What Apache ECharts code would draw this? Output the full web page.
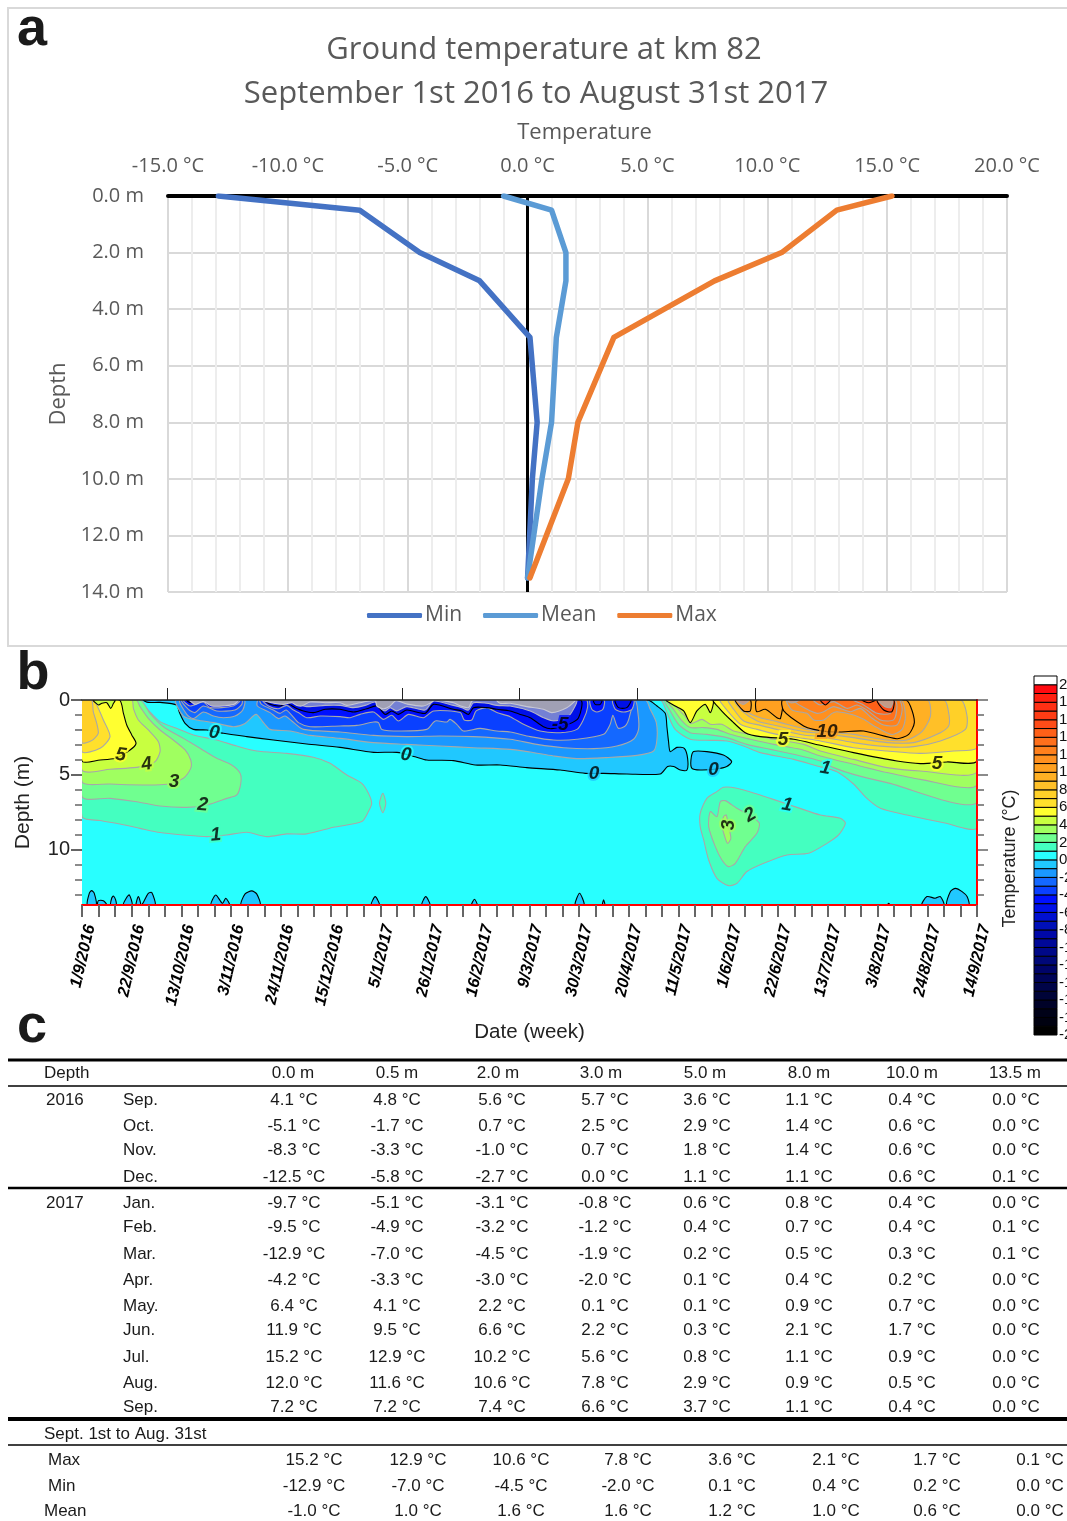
<!DOCTYPE html>
<html>
<head>
<meta charset="utf-8">
<style>
html,body{margin:0;padding:0;background:#fff;}
#main{width:1067px;height:1521px;}
</style>
<script src="https://cdn.jsdelivr.net/npm/echarts@6/dist/echarts.min.js"></script>
</head>
<body>
<div id="main"></div>
<script>
// panel a: depth profile (also the last three rows of the table)
const depths=[0,0.5,2,3,5,8,10,13.5];
const tempMax=[15.2,12.9,10.6,7.8,3.6,2.1,1.7,0.1];
const tempMin=[-12.9,-7.0,-4.5,-2.0,0.1,0.4,0.2,0.0];
const tempMean=[-1.0,1.0,1.6,1.6,1.2,1.0,0.6,0.0];

// panel c: monthly values by depth
const months=['Sep.','Oct.','Nov.','Dec.','Jan.','Feb.','Mar.','Apr.','May.','Jun.','Jul.','Aug.','Sep.'];
const depth0=[4.1,-5.1,-8.3,-12.5,-9.7,-9.5,-12.9,-4.2,6.4,11.9,15.2,12.0,7.2];
const depth05=[4.8,-1.7,-3.3,-5.8,-5.1,-4.9,-7.0,-3.3,4.1,9.5,12.9,11.6,7.2];
const depth2=[5.6,0.7,-1.0,-2.7,-3.1,-3.2,-4.5,-3.0,2.2,6.6,10.2,10.6,7.4];
const depth3=[5.7,2.5,0.7,0.0,-0.8,-1.2,-1.9,-2.0,0.1,2.2,5.6,7.8,6.6];
const depth5=[3.6,2.9,1.8,1.1,0.6,0.4,0.2,0.1,0.1,0.3,0.8,2.9,3.7];
const depth8=[1.1,1.4,1.4,1.1,0.8,0.7,0.5,0.4,0.9,2.1,1.1,0.9,1.1];
const depth10=[0.4,0.6,0.6,0.6,0.4,0.4,0.3,0.2,0.7,1.7,0.9,0.5,0.4];
const depth135=[0.0,0.0,0.0,0.1,0.0,0.1,0.1,0.0,0.0,0.0,0.0,0.0,0.0];
const tableDepths=['0.0 m','0.5 m','2.0 m','3.0 m','5.0 m','8.0 m','10.0 m','13.5 m'];

// panel b: x axis
const dateLabels=['1/9/2016','22/9/2016','13/10/2016','3/11/2016','24/11/2016','15/12/2016','5/1/2017','26/1/2017','16/2/2017','9/3/2017','30/3/2017','20/4/2017','11/5/2017','1/6/2017','22/6/2017','13/7/2017','3/8/2017','24/8/2017','14/9/2017'];
const topTicks=[5.13,12.25,19.3,26.4,33.5,40.6,47.7];
const lastWeek=54;
const lastDepth=13.67;

// panel b: colour scale, one class per degree from -20 to 20
const legendLevels=[];
for(let l=-20;l<=20;l++)legendLevels.push(l);
const legendColors=['#000000','#000110','#000218','#000228','#000438','#000448','#000458','#000468','#000878','#000888','#000898','#0008a8','#0010b8','#0010d0','#0010e8','#0010ff','#0a40ff','#1468ff','#1a98ff','#20c8ff','#28ffff','#44ffc0','#70ff90','#a0ff60','#c8ff40','#ffff30','#ffe02c','#ffd028','#ffc028','#ffb024','#ffa020','#ff901f','#ff801c','#ff701c','#ff6018','#ff4c18','#ff3c14','#ff3014','#ff2010','#ff0a10','#ffffff'];

// panel b: contours, [week, depth]
const plotArea=[[0,0],[54,0],[54,13.67],[0,13.67]];

const warmLeft1=[[0,7.78],[1.09,8.04],[2.29,8.27],[3.5,8.56],[4.71,8.84],[6.12,9.0],[7.53,9.11],[8.73,9.0],[9.94,8.82],[11.15,9.11],[12.35,8.93],[13.56,8.93],[15.17,8.49],[16.88,8.11],[17.28,7.44],[17.48,6.89],[17.28,6.22],[16.88,5.56],[15.98,5.0],[14.97,4.22],[13.96,3.82],[12.35,3.56],[10.54,3.4],[9.34,3.07],[8.13,2.67],[6.72,2.33],[5.71,1.89],[4.71,1.44],[3.9,0.56],[3.4,0],[0,0]];
const warmIsland=[[18.15,6.22],[18.33,6.89],[18.15,7.51],[17.95,6.89]];
const warmLeft2=[[0,6.44],[1.69,6.56],[3.3,6.78],[4.71,7.07],[6.32,7.16],[7.53,7.0],[8.73,6.56],[9.34,6.33],[9.58,5.56],[9.54,4.89],[9.03,4.33],[8.13,3.89],[7.12,3.22],[6.12,2.56],[4.91,1.78],[4.1,0.89],[3.5,0],[0,0]];
const warmLeft3=[[0,5.44],[1.69,5.6],[3.7,5.67],[5.11,5.62],[6.12,5.22],[6.56,4.56],[6.56,4.0],[6.22,3.33],[5.51,2.67],[4.71,2.0],[4.0,1.22],[3.5,0.44],[3.26,0],[0,0]];
const warmLeft4=[[0,4.67],[1.69,4.62],[3.6,4.44],[4.41,4.11],[4.71,3.44],[4.61,2.78],[4.0,2.0],[3.4,1.33],[3.1,0.56],[3.0,0],[0,0]];
const warmLeft5=[[0,4.07],[1.09,4.0],[2.0,3.89],[2.9,3.33],[3.26,2.89],[3.0,2.33],[2.7,1.67],[2.5,0.89],[2.25,0],[0,0]];
const warmLeft6=[[0,3.44],[1.09,3.22],[1.69,2.44],[1.29,1.33],[0.84,0.22],[0.68,0],[0,0]];
const warmLeft7=[[0,2.84],[0.58,2.71],[0.98,2.22],[0.89,1.56],[0.68,0.78],[0.58,0],[0,0]];
const leftPocket=[[0.68,0],[1.0,0.33],[1.2,0.22],[1.5,0.18],[1.73,0.56],[1.9,0.22],[2.0,0]];

const warmRight1=[[34.69,0],[34.99,0.07],[35.29,0.84],[35.79,1.96],[36.7,2.62],[37.9,2.69],[38.91,2.73],[39.92,3.07],[40.93,3.51],[42.94,3.96],[44.35,4.4],[45.55,4.78],[46.55,5.6],[47.36,6.56],[48.17,7.22],[49.78,7.67],[51.99,8.18],[54,8.49],[54,0]];
const warmRight2=[[35.19,0],[35.49,0.73],[35.99,1.62],[36.7,2.18],[37.7,2.29],[38.91,2.51],[40.12,2.96],[41.53,3.29],[42.94,3.62],[44.55,4.07],[45.35,4.51],[46.55,4.96],[48.57,5.51],[54,6.84],[54,0]];
const warmRight3=[[35.33,0],[35.69,0.62],[36.2,1.4],[36.7,1.84],[37.5,1.84],[38.31,1.96],[39.11,2.29],[40.32,2.62],[41.73,2.96],[43.35,3.29],[44.55,3.73],[46.55,4.29],[48.57,4.84],[50.58,5.29],[54,5.67],[54,0]];
const warmRight4=[[35.45,0],[35.89,0.51],[36.39,1.07],[36.74,1.56],[37.41,1.29],[37.91,1.62],[38.61,1.62],[39.31,2.07],[40.32,2.29],[41.73,2.62],[43.54,2.96],[44.55,3.4],[46.55,3.96],[48.57,4.51],[50.58,4.73],[54,4.8],[54,0]];
const warmRight5a=[[35.25,0],[35.79,0.4],[36.3,0.73],[36.7,1.51],[37.1,0.73],[37.6,0.29],[37.91,0.84],[38.05,0]];
const warmRight5b=[[38.11,0],[38.51,0.62],[39.21,1.4],[40.02,2.18],[40.93,2.44],[42.94,2.62],[44.55,3.02],[46.55,3.51],[49.17,4.07],[50.58,4.24],[52.19,4.13],[54,4.07],[54,0]];
const warmRight6=[[38.51,0],[38.71,0.4],[39.73,1.62],[40.74,1.96],[41.93,2.29],[43.54,2.56],[44.55,2.73],[46.55,3.18],[48.57,3.4],[50.58,3.56],[52.59,3.4],[54,3.18],[54,0]];
const warmRight7=[[39.02,0],[39.32,0.62],[39.92,1.4],[40.93,1.69],[41.93,1.96],[43.54,2.33],[44.55,2.44],[46.55,2.84],[48.57,3.11],[50.18,3.11],[51.79,2.73],[53.3,1.96],[53.4,1.07],[53.0,0]];
const warmRight8=[[39.42,0],[39.82,0.73],[40.74,1.4],[41.73,1.67],[43.54,2.11],[44.55,2.22],[46.55,2.51],[48.57,2.84],[50.18,2.84],[51.59,2.29],[52.29,1.73],[52.29,0.84],[52,0]];
const warmRight9=[[39.72,0],[40.22,0.84],[40.93,1.18],[41.93,1.44],[43.54,1.91],[44.75,2.11],[46.55,2.29],[48.57,2.67],[49.78,2.67],[50.68,2.11],[51.19,1.07],[50.99,0]];
const warmRight10a=[[39.42,0],[39.92,0.73],[40.32,0.73],[40.32,0]];
const warmRight10b=[[40.71,0],[40.71,0.78],[41.23,0.62],[41.93,1.18],[42.14,1.24],[42.23,0]];
const warmRight10c=[[42.29,0],[42.34,0.73],[43.54,1.73],[44.15,1.96],[44.95,2.11],[45.75,2.13],[47.16,2.07],[49.17,2.58],[49.88,2.29],[50.22,1.51],[49.98,0.4],[49.68,0]];
const warmRight11=[[42.54,0],[42.84,0.67],[43.74,0.89],[44.15,1.33],[44.75,1.33],[45.25,0.89],[45.55,0.78],[46.56,1.0],[47.16,1.29],[47.97,1.84],[48.87,2.3],[49.48,1.96],[49.68,1.07],[49.38,0]];
const warmRight12=[[42.94,0],[43.44,0.44],[44.35,0.89],[44.75,0.78],[45.35,0.44],[46.36,0.78],[46.96,0.56],[47.67,1.22],[48.37,1.67],[49.17,1.67],[49.48,0.67],[49.28,0]];
const warmRight13=[[44.15,0],[44.55,0.33],[45.35,0.11],[46.16,0.56],[46.76,0.33],[47.36,0.67],[48.17,1.33],[48.97,1.33],[49.17,0.44],[49.02,0]];
const warmRight14=[[46.56,0],[47.16,0.33],[47.97,0.89],[48.77,0.89],[48.97,0.22],[48.87,0]];
const warmRight15a=[[47.97,0],[48.37,0.67],[48.87,0.78],[48.97,0]];
const warmRight15b=[[47.06,0],[47.46,0.18],[47.87,0]];
const warmRight15c=[[44.55,0],[44.85,0.33],[45.15,0]];
const warmDenseA=[[48.05,0],[48.4,0.42],[48.8,0.5],[48.9,0]];
const warmDenseB=[[42.5,0],[42.8,0.2],[43.3,0]];
const warmDenseC=[[39.5,0],[39.9,0.3],[40.25,0]];

const warmBlob1=[[37.3,8.44],[37.3,7.56],[37.7,6.56],[38.3,6.11],[38.71,5.82],[39.51,5.89],[40.72,6.27],[41.93,6.71],[43.14,7.16],[44.55,7.67],[45.75,7.89],[46.06,8.22],[45.65,9.0],[44.95,9.56],[43.84,10.22],[42.54,10.33],[41.13,10.89],[40.12,11.44],[39.52,12.22],[39.01,12.38],[38.31,11.89],[37.81,10.67],[37.51,9.33]];
const warmBlob2=[[38.51,6.78],[38.81,6.71],[39.51,7.22],[40.42,7.78],[40.87,8.22],[40.72,8.89],[40.02,9.78],[39.42,10.89],[39.01,11.11],[38.61,10.67],[38.21,9.78],[37.81,8.44],[37.91,7.44],[38.31,7.78]];
const warmBlob3=[[38.71,7.78],[38.87,7.67],[39.01,8.44],[39.15,9.22],[38.95,9.56],[38.75,9.0],[38.61,8.33]];

const coldZero=[[3.7,0],[4.0,0.16],[4.71,0.16],[5.71,0.33],[5.88,0.84],[6.22,1.56],[6.72,1.96],[7.53,2.0],[8.53,2.22],[9.94,2.44],[11.55,2.67],[13.56,2.93],[15.57,3.16],[17.59,3.49],[19.0,3.49],[20.1,3.78],[20.8,4.0],[22.41,4.04],[23.72,4.33],[25.23,4.33],[26.84,4.51],[28.85,4.67],[30.36,4.89],[31.47,4.89],[32.88,4.93],[34.89,4.93],[35.33,4.44],[35.7,4.44],[36.1,4.67],[36.5,4.67],[36.54,3.89],[36.34,3.22],[35.89,3.16],[35.49,3.44],[35.39,2.78],[35.29,1.78],[35.19,0.89],[34.69,0.4],[34.12,0]];
const coldZeroPool=[[36.9,3.44],[37.7,3.44],[38.7,3.67],[39.2,4.11],[38.9,4.44],[38.3,4.6],[37.3,4.67],[36.8,4.56],[36.74,4.0]];
const coldBottom1=[[0.32,13.67],[0.44,12.89],[0.58,12.71],[0.74,12.89],[0.85,13.67]];
const coldBottom2=[[0.95,13.67],[0.99,13.38],[1.29,13.38],[1.49,13.67]];
const coldBottom3=[[1.73,13.67],[1.79,13.22],[1.89,13.07],[2.03,13.33],[2.05,13.67]];
const coldBottom4=[[2.49,13.67],[2.7,13.16],[2.86,13.0],[3.02,13.67]];
const coldBottom5=[[3.26,13.67],[3.4,13.11],[3.54,13.67]];
const coldBottom6=[[3.62,13.67],[3.7,13.51],[4.0,12.89],[4.21,12.84],[4.41,13.67]];
const coldBottom7=[[7.79,13.67],[8.07,13.0],[8.47,13.56],[8.67,13.22],[8.89,13.67]];
const coldBottom8=[[9.6,13.67],[9.84,12.93],[10.24,12.73],[10.54,12.93],[10.74,13.67]];
const coldBottom9=[[17.45,13.67],[17.69,13.11],[17.95,13.67]];
const coldBottom10=[[20.5,13.67],[20.74,13.11],[21.0,13.67]];
const coldBottom11=[[23.5,13.67],[23.68,13.29],[23.85,13.67]];
const coldBottom12=[[29.75,13.67],[30.02,12.89],[30.3,13.67]];
const coldBottom13=[[31.4,13.67],[31.47,13.33],[31.55,13.67]];
const coldBottom14=[[48.6,13.67],[48.67,13.56],[48.75,13.67]];
const coldBottom15=[[50.68,13.67],[50.98,13.11],[51.48,13.22],[51.79,13.11],[51.99,13.67]];
const coldBottom16=[[52.19,13.67],[52.39,12.78],[52.7,12.56],[53.1,12.78],[53.4,13.11],[53.5,13.67]];

const coldOne=[[5.71,0],[6.12,1.07],[6.92,1.33],[7.93,1.51],[9.13,1.78],[9.84,1.56],[10.5,0.96],[10.95,1.51],[11.35,1.96],[12.56,2.07],[13.76,2.36],[15.57,2.56],[17.59,2.84],[19.6,2.96],[21.61,3.07],[23.62,3.18],[25.83,3.29],[27.04,3.47],[28.45,3.73],[29.86,3.91],[31.67,3.84],[33.48,3.69],[34.49,3.4],[34.69,2.62],[34.65,1.51],[34.28,0.62],[33.98,0]];
const coldTwoA=[[5.92,0],[6.32,0.96],[6.72,1.24],[7.32,0.8],[7.93,1.07],[8.53,1.18],[9.23,1.07],[9.7,0.67],[9.78,0]];
const coldTwoB=[[10.65,0],[10.58,0.4],[11.35,0.84],[11.85,1.24],[12.25,1.07],[12.66,1.4],[13.36,1.96],[15.57,2.13],[17.59,2.36],[19.6,2.44],[21.61,2.4],[23.62,2.44],[25.83,2.62],[27.45,2.96],[29.06,3.18],[30.87,3.24],[32.27,3.07],[33.28,2.62],[33.58,1.96],[33.54,0.84],[33.32,0]];
const coldThreeA=[[6.02,0],[6.42,0.62],[6.82,0.84],[7.32,0.4],[8.13,0.73],[9.23,0.67],[9.64,0.29],[9.64,0]];
const coldThreeB=[[10.74,0],[10.84,0.29],[11.55,0.67],[11.95,0.89],[12.31,0.67],[12.66,1.02],[13.06,1.51],[13.76,1.78],[15.57,1.73],[16.58,1.69],[17.59,1.47],[17.89,1.51],[18.09,1.96],[19.2,2.07],[20.8,1.96],[21.31,1.4],[22.01,1.47],[22.21,1.29],[22.61,1.62],[23.02,2.07],[24.03,1.89],[25.03,2.07],[25.83,2.13],[27.04,2.44],[28.45,2.67],[29.86,2.62],[31.47,2.29],[31.87,1.62],[32.03,1.02],[32.23,1.62],[32.37,1.89],[32.78,1.73],[33.04,1.07],[33.12,0]];
const coldFourA=[[6.12,0],[6.52,0.4],[7.32,0.13],[7.73,0.51],[9.13,0.4],[9.53,0]];
const coldFourB=[[10.91,0],[11.25,0.4],[11.85,0.58],[12.35,0.36],[12.76,0.67],[13.06,0.84],[13.56,1.18],[14.37,1.07],[15.57,1.11],[16.18,1.18],[16.78,0.96],[17.59,0.8],[18.19,1.29],[18.69,1.02],[19.09,1.4],[19.7,0.96],[20.6,1.18],[21.21,0.73],[22.82,0.84],[23.06,1.33],[23.52,1.33],[23.78,0.73],[24.43,0.51],[25.03,0.84],[25.83,1.11],[26.64,1.62],[27.64,2.07],[28.85,2.18],[29.86,1.96],[30.26,1.29],[30.5,0.51],[30.42,0]];
const coldFourC=[[30.66,0],[30.76,0.62],[31.06,0.8],[31.43,0.62],[31.5,0]];
const coldFourD=[[32.03,0],[32.18,0.62],[32.68,0.8],[33.18,0.62],[33.28,0]];
const coldFiveA=[[6.32,0],[6.52,0.18],[7.32,0]];
const coldFiveB=[[7.93,0],[8.23,0.29],[9.13,0.18],[9.44,0]];
const coldFiveC=[[11.05,0],[11.35,0.29],[11.95,0.4],[12.35,0.22],[12.86,0.51],[13.36,0.73],[13.96,0.84],[14.67,0.62],[15.57,0.62],[16.38,0.8],[17.18,0.58],[17.79,0.4],[18.29,0.96],[18.69,0.73],[19.09,0.96],[19.6,0.67],[20.7,0.89],[21.21,0.29],[22.41,0.62],[22.92,0.73],[23.32,0.96],[23.62,0.51],[24.43,0.51],[25.03,0.62],[25.83,0.73],[26.44,0.96],[27.04,1.18],[27.84,1.78],[28.35,1.91],[29.35,1.62],[29.96,1.18],[30.06,0]];
const coldFiveD=[[30.86,0],[30.96,0.29],[31.27,0.29],[31.37,0]];
const coldFiveE=[[32.17,0],[32.37,0.51],[32.87,0.51],[33.12,0]];
const coldSix=[[11.25,0],[11.75,0.22],[12.35,0.04],[12.86,0.22],[13.56,0.44],[14.67,0.36],[15.57,0.36],[16.38,0.51],[17.08,0.36],[17.69,0.13],[17.95,0.51],[18.29,0.73],[18.59,0.51],[18.99,0.73],[19.6,0.44],[20.7,0.67],[21.21,0.07],[22.41,0.36],[22.92,0.51],[23.32,0.67],[23.62,0.18],[24.43,0.22],[25.03,0.36],[25.83,0.4],[27.04,0.73],[27.84,1.18],[28.45,1.4],[29.25,1.18],[29.65,0.62],[29.82,0]];
const denseA=[[6.52,0],[6.82,0.29],[7.32,0.09],[7.83,0.4],[9.13,0.31],[9.44,0]];
const denseB=[[10.84,0],[11.45,0.18],[12.15,0.29],[12.66,0.18],[12.96,0.36],[13.26,0.4],[13.76,0.13],[14.67,0.18],[15.57,0.18],[15.98,0.36],[16.78,0.18],[17.69,0.04],[17.79,0.4],[18.19,0.58],[18.59,0.4],[18.94,0.04],[19.6,0.27],[20.6,0.4],[21.21,0]];
const denseC=[[21.61,0],[22.41,0.18],[22.85,0.4],[23.32,0.51],[23.52,0.07],[23.7,0]];
const denseD=[[25.03,0],[25.22,0.22],[25.83,0.22],[26.84,0.44],[27.84,0.62],[28.35,0.84],[29.25,0.51],[29.74,0.07],[29.74,0]];

// contour labels
const labelWeeks=[7.97,19.54,30.9,38.11,2.33,3.9,5.55,7.28,8.07,28.85,44.95,42.3,44.85,51.59,42.54,40.32,39.01];
const labelDepths=[2.18,3.67,4.93,4.62,3.67,4.29,5.44,7.0,9.0,1.62,2.11,2.62,4.56,4.27,7.0,7.67,8.33];
const labelTexts=['0','0','0','0','5','4','3','2','1','-5','10','5','1','5','1','2','3'];
const labelAngles=[-8,-8,0,0,-8,8,0,-5,5,0,0,0,-10,0,-10,30,90];
const labelHalos=['#28ffff','#28ffff','#20c8ff','#20c8ff','#ffff30','#c8ff40','#a0ff60','#70ff90','#44ffc0','#0010ff','#ffa020','#ffff30','#28ffff','#ffff30','#28ffff','#70ff90','#a0ff60'];

const cellColor=function(cell){return legendColors[cell+20]};
const bands=[];
function warm(level,list){
    list.forEach(function(pts){
        bands.push({fill:cellColor(level),stroke:level%5==0?'#000':'#a8a8a8',pts:pts});
    });
}
function cold(level,list){
    list.forEach(function(pts){
        bands.push({fill:cellColor(level-1),stroke:level%5==0?'#000':'#a8a8a8',pts:pts});
    });
}
bands.push({fill:cellColor(0),stroke:null,pts:plotArea});
warm(1,[warmLeft1,warmIsland,warmRight1,warmBlob1]);
warm(2,[warmLeft2,warmRight2,warmBlob2]);
warm(3,[warmLeft3,warmRight3,warmBlob3]);
warm(4,[warmLeft4,warmRight4]);
warm(5,[warmLeft5,warmRight5a,warmRight5b]);
warm(6,[warmLeft6,warmRight6]);
warm(7,[warmLeft7,warmRight7]);
warm(8,[warmRight8]);
warm(9,[warmRight9]);
warm(10,[warmRight10a,warmRight10b,warmRight10c]);
warm(11,[warmRight11]);
warm(12,[warmRight12]);
warm(13,[warmRight13]);
warm(14,[warmRight14]);
warm(15,[warmRight15a,warmRight15b,warmRight15c]);
[warmDenseA,warmDenseB,warmDenseC].forEach(function(pts){
    bands.push({fill:'#c49a86',stroke:'#b0a8a0',pts:pts});
});
bands.push({fill:cellColor(4),stroke:'#000',pts:leftPocket});
cold(0,[coldZero,coldZeroPool,coldBottom1,coldBottom2,coldBottom3,coldBottom4,coldBottom5,coldBottom6,coldBottom7,coldBottom8,coldBottom9,coldBottom10,coldBottom11,coldBottom12,coldBottom13,coldBottom14,coldBottom15,coldBottom16]);
cold(-1,[coldOne]);
cold(-2,[coldTwoA,coldTwoB]);
cold(-3,[coldThreeA,coldThreeB]);
cold(-4,[coldFourA,coldFourB,coldFourC,coldFourD]);
cold(-5,[coldFiveA,coldFiveB,coldFiveC,coldFiveD,coldFiveE]);
// the closely packed contours below -5 read as a paler stripe in the picture
bands.push({fill:'#7480d4',stroke:'#b4b4c8',pts:coldSix});
[denseA,denseB,denseC,denseD].forEach(function(pts){
    bands.push({fill:'#a0a0b4',stroke:'#c8c8d4',pts:pts});
});

// table rendered as graphic text
const grayText='#595959';
const tableFont='"Liberation Sans"';
const tableRows=[1100,1126,1150,1177,1203,1227,1254,1280,1306,1330,1357,1383,1407];
const headerX=[293,397,498,601,705,809,912,1015];
const valueX=[294,397,502,605,707,809,912,1016];
const summaryX=[314,418,521,628,732,836,937,1040];
const monthly=[depth0,depth05,depth2,depth3,depth5,depth8,depth10,depth135];
const summaryRows=[{name:'Max',x:48,y:1460,vals:tempMax},{name:'Min',x:48,y:1486,vals:tempMin},{name:'Mean',x:44,y:1511,vals:tempMean}];

function cellText(x,y,text,align){
    return {type:'text',x:x,y:y,silent:true,style:{text:text,x:0,y:0,align:align||'left',verticalAlign:'middle',font:'17px '+tableFont,fill:'#1a1a1a'}};
}
function rule(y,w){
    return {type:'line',silent:true,shape:{x1:8,y1:y,x2:1067,y2:y},style:{stroke:'#000',lineWidth:w}};
}
function panelLetter(x,y,t){
    return {type:'text',x:x,y:y,silent:true,style:{text:t,x:0,y:0,align:'center',verticalAlign:'middle',font:'bold 54px "Liberation Sans"',fill:'#1a1a1a'}};
}
const graphics=[
    {type:'rect',silent:true,shape:{x:8,y:8,width:1070,height:638},style:{fill:'none',stroke:'#d9d9d9',lineWidth:2}},
    panelLetter(32,30,'a'),panelLetter(33,674,'b'),panelLetter(32,1027,'c'),
    rule(1060,3),rule(1086,1.5),rule(1188,2.5),rule(1419,4),rule(1445,1.5),
    cellText(44,1073,'Depth'),cellText(46,1100,'2016'),cellText(46,1203,'2017'),
    cellText(44,1434,'Sept. 1st to Aug. 31st')
];
tableDepths.forEach(function(d,i){graphics.push(cellText(headerX[i],1073,d,'center'))});
months.forEach(function(m,r){
    graphics.push(cellText(123,tableRows[r],m));
    monthly.forEach(function(col,c){
        graphics.push(cellText(valueX[c],tableRows[r],col[r].toFixed(1)+' °C','center'));
    });
});
summaryRows.forEach(function(row){
    graphics.push(cellText(row.x,row.y,row.name));
    row.vals.forEach(function(v,c){
        graphics.push(cellText(summaryX[c],row.y,v.toFixed(1)+' °C','center'));
    });
});

function profile(name,vals,color){
    return {
        name:name,type:'line',xAxisIndex:0,yAxisIndex:0,symbol:'none',
        data:vals.map(function(v,i){return [v,depths[i]]}),
        lineStyle:{color:color,width:5.5,cap:'round',join:'round'},
        itemStyle:{color:color},z:4
    };
}
const minorDepths=[1,2,3,4,6,7,8,9,11,12,13];
const majorDepths=[0,5,10];

let myChart=echarts.init(document.getElementById('main'),null,{renderer:'canvas'});
let option={
    animation:false,
    backgroundColor:'#fff',
    textStyle:{fontFamily:'"Open Sans"'},
    title:[
        {
            text:'Ground temperature at km 82',left:539,top:30,textAlign:'center',
            textStyle:{fontSize:31,fontWeight:'normal',color:grayText,fontFamily:'"Open Sans"'}
        },
        {
            text:'September 1st 2016 to August 31st 2017',left:531,top:74,textAlign:'center',
            textStyle:{fontSize:31,fontWeight:'normal',color:grayText,fontFamily:'"Open Sans"'}
        }
    ],
    legend:{
        data:['Min','Mean','Max'],left:362,top:600,itemWidth:55,itemHeight:5,itemGap:21,icon:'roundRect',
        textStyle:{fontSize:21,color:grayText,padding:[0,0,0,-2]}
    },
    graphic:{elements:graphics},
    grid:[
        {left:168,top:196,width:839,height:396,outerBoundsMode:'none'},
        {left:82,top:700,width:895,height:205,outerBoundsMode:'none'},
        {left:1034,top:676,width:23,height:359,outerBoundsMode:'none'}
    ],
    xAxis:[
        {
            gridIndex:0,type:'value',position:'top',min:-15,max:20,interval:5,
            name:'Temperature',nameLocation:'middle',nameGap:52,
            nameTextStyle:{fontSize:22,color:grayText,padding:[0,6,0,0]},
            axisLine:{onZero:false,lineStyle:{color:'#000',width:4}},
            axisTick:{show:false},
            axisLabel:{fontSize:20,color:grayText,margin:20,formatter:function(v){return v.toFixed(1)+' °C'}},
            splitLine:{lineStyle:{color:'#d9d9d9',width:2}},
            minorTick:{show:false,splitNumber:5},
            minorSplitLine:{show:true,lineStyle:{color:'#ededed',width:2}}
        },
        {
            gridIndex:1,type:'value',position:'bottom',min:0,max:lastWeek,interval:3,z:10,
            name:'Date (week)',nameLocation:'middle',nameGap:117,
            nameTextStyle:{fontSize:20.5,color:'#222',fontFamily:tableFont},
            axisLine:{onZero:false,lineStyle:{color:'#ff0000',width:2}},
            axisTick:{length:12,lineStyle:{color:'#666',width:2}},
            minorTick:{show:true,splitNumber:3,length:12,lineStyle:{color:'#666',width:2}},
            axisLabel:{
                rotate:77,fontSize:16.5,fontWeight:'bold',fontStyle:'italic',color:'#000',margin:18,fontFamily:tableFont,verticalAlign:'top',
                formatter:function(v){return dateLabels[Math.round(v/3)]}
            },
            splitLine:{show:false}
        },
        {
            gridIndex:1,type:'value',position:'top',min:0,max:lastWeek,z:10,
            axisLine:{onZero:false,lineStyle:{color:'#222',width:1.5}},
            axisTick:{show:true,length:12,customValues:topTicks,lineStyle:{color:'#222',width:1}},
            axisLabel:{show:false},splitLine:{show:false}
        },
        {gridIndex:2,type:'value',min:0,max:1,show:false}
    ],
    yAxis:[
        {
            gridIndex:0,type:'value',inverse:true,min:0,max:14,interval:2,
            name:'Depth',nameLocation:'middle',nameGap:94,
            nameTextStyle:{fontSize:22,color:grayText},
            axisLine:{show:false},axisTick:{show:false},
            axisLabel:{fontSize:20,color:grayText,margin:24,padding:[6,0,0,0],formatter:function(v){return v.toFixed(1)+' m'}},
            splitLine:{lineStyle:{color:'#d9d9d9',width:2}}
        },
        {
            gridIndex:1,type:'value',inverse:true,position:'left',min:0,max:lastDepth,
            axisLine:{show:false},
            axisTick:{show:true,length:7,customValues:minorDepths,lineStyle:{color:'#666',width:1.5}},
            axisLabel:{show:false},splitLine:{show:false}
        },
        {
            gridIndex:1,type:'value',inverse:true,position:'left',min:0,max:lastDepth,
            name:'Depth (m)',nameLocation:'middle',nameGap:48,
            nameTextStyle:{fontSize:21,color:'#222',fontFamily:tableFont},
            axisLine:{show:false},
            axisTick:{show:true,length:11,customValues:majorDepths,lineStyle:{color:'#333',width:1.5}},
            axisLabel:{show:true,customValues:majorDepths,fontSize:20,color:'#222',margin:12,padding:[2,0,0,0],fontFamily:tableFont},
            splitLine:{show:false}
        },
        {
            gridIndex:1,type:'value',inverse:true,position:'right',min:0,max:lastDepth,z:10,
            axisLine:{onZero:false,lineStyle:{color:'#ff0000',width:2}},
            axisTick:{show:true,length:7,customValues:minorDepths,lineStyle:{color:'#666',width:1.5}},
            axisLabel:{show:false},splitLine:{show:false}
        },
        {
            gridIndex:1,type:'value',inverse:true,position:'right',min:0,max:lastDepth,
            axisLine:{show:false},
            axisTick:{show:true,length:11,customValues:majorDepths,lineStyle:{color:'#666',width:1.5}},
            axisLabel:{show:false},splitLine:{show:false}
        },
        {
            gridIndex:2,type:'value',position:'right',min:-20,max:21,interval:2,
            name:'Temperature (°C)',nameLocation:'middle',nameGap:-56,nameRotate:90,
            nameTextStyle:{fontSize:18,color:'#222',fontFamily:tableFont,padding:[0,6,0,0]},
            axisLine:{show:false},axisTick:{show:false},
            axisLabel:{fontSize:15,color:'#111',margin:2,showMaxLabel:false,fontFamily:tableFont,
                formatter:function(v){return String(v)}},
            splitLine:{show:false}
        }
    ],
    series:[
        {
            // black vertical at 0 degC sits on this one
            ...profile('Min',tempMin,'#4472c4'),
            markLine:{
                silent:true,symbol:'none',label:{show:false},z:3,
                lineStyle:{color:'#000',width:3,type:'solid'},
                data:[{xAxis:0}]
            }
        },
        profile('Mean',tempMean,'#5b9bd5'),
        profile('Max',tempMax,'#ed7d31'),
        {
            type:'custom',name:'contours',xAxisIndex:1,yAxisIndex:1,clip:true,silent:true,z:2,
            data:bands.map(function(b,i){return [i]}),
            renderItem:function(params,api){
                let band=bands[api.value(0)];
                let pts=band.pts.map(function(p){return api.coord(p)});
                return {
                    type:'polygon',
                    shape:{points:pts,smooth:band.stroke?0.25:0},
                    style:{fill:band.fill,stroke:band.stroke||'none',lineWidth:1.1}
                };
            }
        },
        {
            type:'scatter',name:'contour labels',xAxisIndex:1,yAxisIndex:1,symbolSize:0,silent:true,z:5,
            data:labelTexts.map(function(t,i){
                return {
                    value:[labelWeeks[i],labelDepths[i]],
                    label:{
                        show:true,position:'inside',formatter:t,rotate:labelAngles[i],
                        fontSize:19,fontWeight:'bold',fontStyle:'italic',color:'#000',fontFamily:tableFont,
                        textBorderColor:labelHalos[i],textBorderWidth:4
                    }
                };
            })
        },
        {
            type:'custom',name:'scale',xAxisIndex:3,yAxisIndex:5,clip:false,silent:true,
            data:legendLevels.map(function(l,i){return [0,l]}),
            renderItem:function(params,api){
                let l=api.value(1);
                let a=api.coord([0,l+1]);
                let b=api.coord([1,l]);
                return {
                    type:'rect',
                    shape:{x:a[0],y:a[1],width:b[0]-a[0],height:b[1]-a[1]},
                    style:{fill:cellColor(l),stroke:'#000',lineWidth:1}
                };
            }
        }
    ]
};
myChart.setOption(option);
</script>
</body>
</html>
